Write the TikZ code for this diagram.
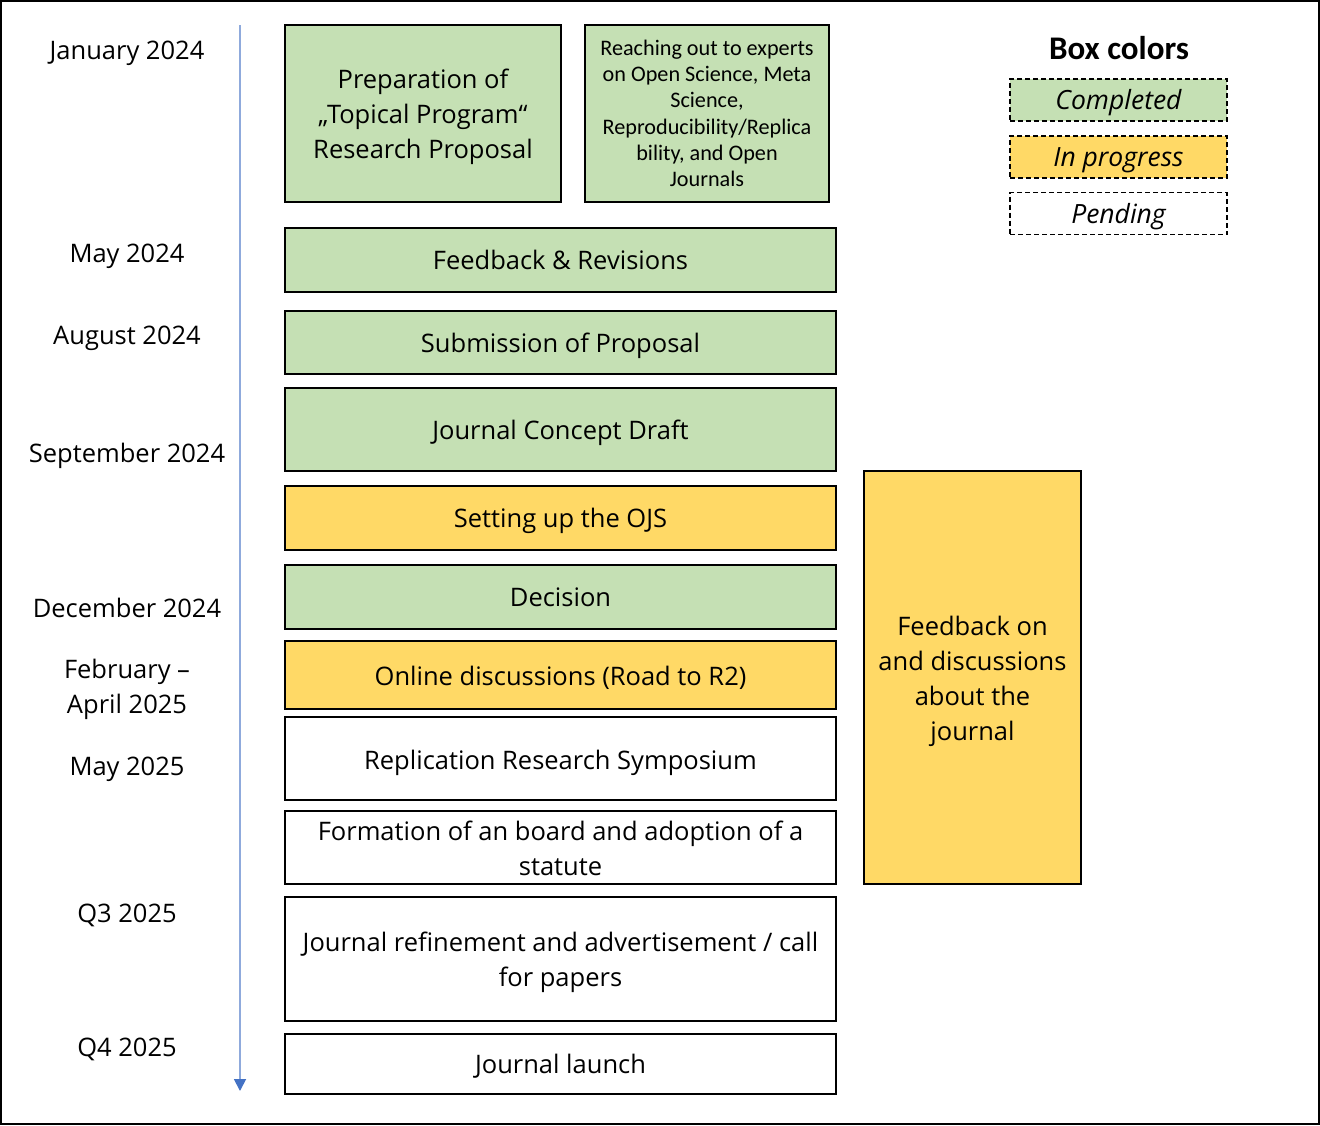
\documentclass[tikz,border=0pt]{standalone}
\usepackage{fontspec}
\setmainfont{Open Sans}
\newfontfamily\calfont{Carlito}
\usetikzlibrary{arrows.meta}
\definecolor{donegreen}{HTML}{C5E0B4}
\definecolor{progyellow}{HTML}{FFD966}
\definecolor{tlblue}{HTML}{8FAADC}
\definecolor{tipblue}{HTML}{4472C4}
\begin{document}
\begin{tikzpicture}[x=1pt,y=-1pt,
  txt/.style={align=center, inner sep=0pt, yshift=-3pt, font=\fontsize{25.5}{35}\selectfont},
  stage/.style={draw=black, line width=1.8pt, inner sep=0pt},
  done/.style={stage, fill=donegreen},
  prog/.style={stage, fill=progyellow},
  pend/.style={stage, fill=white},
  wide/.style={minimum width=551pt},
  datelbl/.style={align=center, font=\fontsize{25.5}{35}\selectfont},
  legbox/.style={draw=black, dash pattern=on 5pt off 3pt, line width=1.3pt, minimum width=217pt, minimum height=42pt, inner sep=0pt},
  legtxt/.style={inner sep=0pt, yshift=-3pt, font=\fontsize{26.5}{30}\selectfont\itshape},
  timeline/.style={draw=tlblue, line width=1.8pt, -{Triangle[width=12pt,length=12pt,color=tipblue]}}
]
\useasboundingbox (0,0) rectangle (1320,1125);
\draw[line width=2pt] (1,1) rectangle (1319,1124);

% timeline
\coordinate (tstart) at (240,25);
\coordinate (tend) at (240,1091);
\draw[timeline] (tstart) -- (tend);

% dates
\node[datelbl] (d1) at (127,53) {January 2024};
\node[datelbl] (d2) at (127,256) {May 2024};
\node[datelbl] (d3) at (127,338) {August 2024};
\node[datelbl] (d4) at (127,456) {September 2024};
\node[datelbl] (d5) at (127,608) {December 2024};
\node[datelbl] (d6) at (127,689.5) {February –\\April 2025};
\node[datelbl] (d7) at (127,769) {May 2025};
\node[datelbl] (d8) at (127,915) {Q3 2025};
\node[datelbl] (d9) at (127,1049) {Q4 2025};

% stages
\node[done, minimum width=276pt, minimum height=177pt, label={[txt]center:{Preparation of\\„Topical Program“\\Research Proposal}}] (prep) at (423,113.5) {};
\node[done, minimum width=244pt, minimum height=177pt, align=center, font=\calfont\fontsize{22.2}{26.3}\selectfont] (reach) at (707,113.5) {Reaching out to experts\\on Open Science, Meta\\Science,\\Reproducibility/Replica\\bility, and Open\\Journals};
\node[done, wide, minimum height=64pt, label={[txt,yshift=3pt]center:{Feedback \& Revisions}}] (fr) at (560.5,260) {};
\node[done, wide, minimum height=63pt, label={[txt]center:{Submission of Proposal}}] (sub) at (560.5,342.5) {};
\node[done, wide, minimum height=83pt, label={[txt]center:{Journal Concept Draft}}] (jcd) at (560.5,429.5) {};
\node[prog, wide, minimum height=64pt, label={[txt]center:{Setting up the OJS}}] (ojs) at (560.5,518) {};
\node[done, wide, minimum height=64pt, label={[txt,yshift=3pt]center:{Decision}}] (dec) at (560.5,597) {};
\node[prog, wide, minimum height=68pt, label={[txt]center:{Online discussions (Road to R2)}}] (onl) at (560.5,675) {};
\node[pend, wide, minimum height=83pt, label={[txt,yshift=-1pt]center:{Replication Research Symposium}}] (rrs) at (560.5,758.5) {};
\node[pend, wide, minimum height=73pt, label={[txt,yshift=2pt]center:{Formation of an board and adoption of a\\statute}}] (form) at (560.5,847.5) {};
\node[pend, wide, minimum height=124pt, label={[txt]center:{Journal refinement and advertisement / call\\for papers}}] (refine) at (560.5,959) {};
\node[pend, wide, minimum height=60pt, label={[txt,yshift=1pt]center:{Journal launch}}] (launch) at (560.5,1064) {};
\node[prog, minimum width=217pt, minimum height=413pt, label={[txt,yshift=-1pt]center:{Feedback on\\and discussions\\about the\\journal}}] (side) at (972.5,677.5) {};

% legend
\node[font=\calfont\bfseries\fontsize{33}{36}\selectfont] (legtitle) at (1119,48) {Box colors};
\node[legbox, fill=donegreen, label={[legtxt]center:Completed}] (lgdone) at (1118.5,100) {};
\node[legbox, fill=progyellow, label={[legtxt]center:In progress}] (lgprog) at (1118.5,157) {};
\node[legbox, fill=white, label={[legtxt]center:Pending}] (lgpend) at (1118.5,213.5) {};
\end{tikzpicture}
\end{document}
